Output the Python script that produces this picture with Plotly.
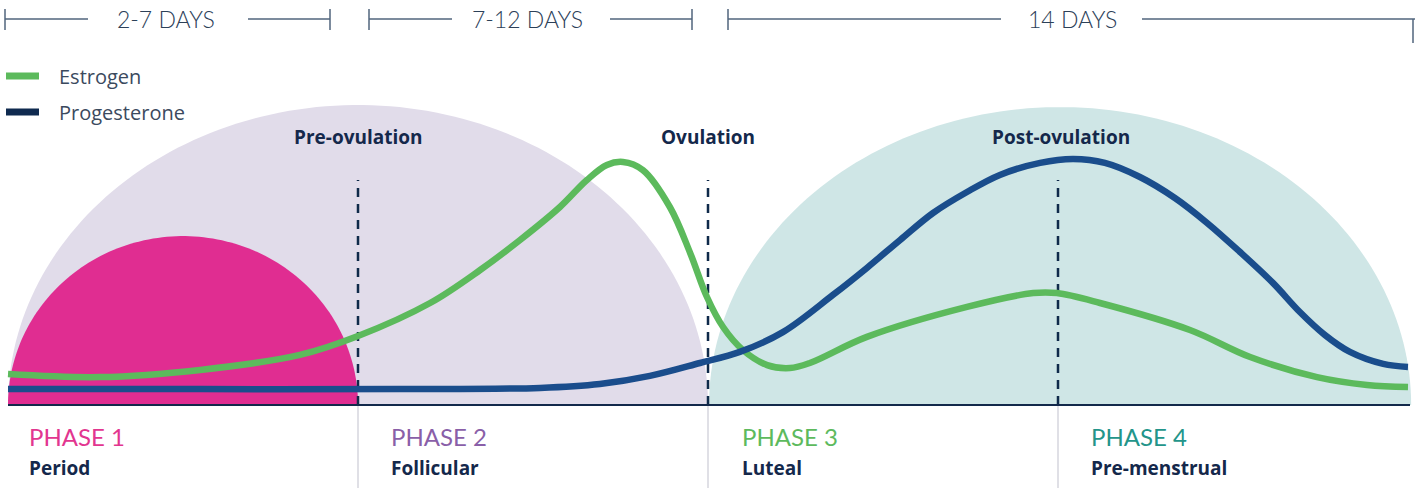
import numpy as np
import plotly.graph_objects as go

# ---------------- data (x: cycle position in phase units, y: relative hormone level) -------------
estrogen_x = [0.0, 0.263, 0.549, 0.834, 1.0, 1.206, 1.349, 1.463, 1.577, 1.654, 1.711, 1.757, 1.814,
              1.891, 1.949, 1.997, 2.043, 2.1, 2.169, 2.234, 2.291, 2.454, 2.74, 2.929, 2.997, 3.12,
              3.377, 3.549, 3.74, 3.883, 4.0]
estrogen_y = [0.103, 0.093, 0.117, 0.167, 0.23, 0.34, 0.45, 0.55, 0.66, 0.75, 0.80, 0.81, 0.783,
              0.66, 0.507, 0.36, 0.26, 0.183, 0.133, 0.123, 0.14, 0.227, 0.327, 0.373, 0.373, 0.34,
              0.25, 0.16, 0.093, 0.067, 0.06]

progesterone_x = [0.0, 0.549, 1.12, 1.52, 1.691, 1.834, 1.977, 2.091, 2.214, 2.357, 2.454, 2.549,
                  2.643, 2.74, 2.834, 2.949, 3.043, 3.134, 3.234, 3.334, 3.426, 3.52, 3.614, 3.691,
                  3.763, 3.834, 3.929, 4.0]
progesterone_y = [0.053, 0.053, 0.053, 0.057, 0.07, 0.097, 0.14, 0.177, 0.243, 0.367, 0.457, 0.55,
                  0.64, 0.71, 0.767, 0.807, 0.82, 0.807, 0.76, 0.69, 0.607, 0.51, 0.407, 0.31,
                  0.233, 0.177, 0.137, 0.127]

phase_names = ["PHASE 1", "PHASE 2", "PHASE 3", "PHASE 4"]
phase_subtitles = ["Period", "Follicular", "Luteal", "Pre-menstrual"]
phase_colors = ["#e2368f", "#8a5fa8", "#5dba5d", "#23958a"]
stage_labels = ["Pre-ovulation", "Ovulation", "Post-ovulation"]
duration_labels = ["2-7 DAYS", "7-12 DAYS", "14 DAYS"]
series_names = ["Estrogen", "Progesterone"]
series_colors = ["#5cba5c", "#1a4d8c"]
legend_swatch_colors = ["#5cba5c", "#0f2a4f"]

# ---------------- geometry helpers (layout only) ----------------
W, H = 1422, 488
X0PX, UNIT = 8, 350.0      # x=0 at pixel 8, one phase = 350 px
BASE_PX, YUNIT = 405, 300.0


def X(px):
    return (px - X0PX) / UNIT


def Y(py):
    return (BASE_PX - py) / YUNIT


def half_ellipse(cx, rx, ry, n=120):
    t = np.linspace(np.pi, 0, n)
    xs = cx + rx * np.cos(t)
    ys = ry * np.sin(t)
    pts = " L ".join(f"{x:.5f},{y:.5f}" for x, y in zip(xs, ys))
    return f"M {pts} Z"


fig = go.Figure()

shapes = []
# background domes
shapes.append(dict(type="path", path=half_ellipse(1.0, 1.0, 1.0), fillcolor="#e1dcea",
                   line=dict(width=0), layer="below"))
shapes.append(dict(type="path", path=half_ellipse(3.006, 1.003, 0.993), fillcolor="#cfe6e6",
                   line=dict(width=0), layer="below"))
shapes.append(dict(type="path", path=half_ellipse(0.5, 0.5, 0.563), fillcolor="#e02d91",
                   line=dict(width=0), layer="below"))

# dashed phase dividers
for xb in [1.0, 2.0, 3.0]:
    shapes.append(dict(type="line", x0=xb, x1=xb, y0=0, y1=Y(180),
                       line=dict(color="#0f2a4a", width=2.5, dash="9px,7px"), layer="below"))
# grey separators under the baseline
for xb in [1.0, 2.0, 3.0]:
    shapes.append(dict(type="line", x0=xb, x1=xb, y0=0, y1=Y(488),
                       line=dict(color="#d6d6de", width=1.5), layer="below"))

# duration bracket lines in header
hdr_col = "#50657d"
hy = Y(19)
segs = [(5, 88), (248, 330), (369, 452), (610, 692), (728, 1001), (1142, 1415)]
for a, b in segs:
    shapes.append(dict(type="line", x0=X(a), x1=X(b), y0=hy, y1=hy,
                       line=dict(color=hdr_col, width=1.5)))
for tx in [5, 330, 369, 692, 728]:
    shapes.append(dict(type="line", x0=X(tx), x1=X(tx), y0=Y(9), y1=Y(30),
                       line=dict(color=hdr_col, width=1.5)))
shapes.append(dict(type="line", x0=X(1413), x1=X(1413), y0=Y(19), y1=Y(43),
                   line=dict(color=hdr_col, width=1.5)))

# legend swatches (manual)
for c, py in zip(legend_swatch_colors, [76, 112]):
    shapes.append(dict(type="rect", x0=X(6), x1=X(39), y0=Y(py - 3.5), y1=Y(py + 3.5),
                       fillcolor=c, line=dict(width=0)))

# hormone curves
fig.add_trace(go.Scatter(x=estrogen_x, y=estrogen_y, mode="lines", name=series_names[0],
                         line=dict(color=series_colors[0], width=6.5, shape="spline", smoothing=1.0),
                         hoverinfo="skip"))
fig.add_trace(go.Scatter(x=progesterone_x, y=progesterone_y, mode="lines", name=series_names[1],
                         line=dict(color=series_colors[1], width=6.5, shape="spline", smoothing=1.0),
                         hoverinfo="skip"))

# baseline on top
shapes.append(dict(type="line", x0=X(8), x1=X(1410), y0=0, y1=0,
                   line=dict(color="#13294b", width=2)))

annotations = []
light_font = dict(family="Lato, Open Sans, sans-serif", size=23, color="#2c4058", weight=300)
for lab, cx in zip(duration_labels, [166, 527, 1072]):
    annotations.append(dict(x=X(cx), y=Y(19), text=lab, showarrow=False, xanchor="center",
                            yanchor="middle", font=light_font))

for name, py in zip(series_names, [76, 112]):
    annotations.append(dict(x=X(57), y=Y(py), text=name, showarrow=False, xanchor="left",
                            yanchor="middle",
                            font=dict(family="Open Sans, sans-serif", size=20, color="#3b4a5e")))

for lab, cx in zip(stage_labels, [358, 708, 1061]):
    annotations.append(dict(x=X(cx), y=Y(137), text=f"<b>{lab}</b>", showarrow=False,
                            xanchor="center", yanchor="middle",
                            font=dict(family="Open Sans, sans-serif", size=19, color="#14284b")))

for name, sub, col, lx in zip(phase_names, phase_subtitles, phase_colors, [27, 389, 740, 1089]):
    annotations.append(dict(x=X(lx), y=Y(436), text=name, showarrow=False, xanchor="left",
                            yanchor="middle",
                            font=dict(family="Lato, sans-serif", size=24, color=col)))
    annotations.append(dict(x=X(lx), y=Y(468), text=f"<b>{sub}</b>", showarrow=False,
                            xanchor="left", yanchor="middle",
                            font=dict(family="Open Sans, sans-serif", size=19, color="#14284b")))

fig.update_layout(
    width=W, height=H,
    margin=dict(l=0, r=0, t=0, b=0),
    paper_bgcolor="white", plot_bgcolor="white",
    showlegend=False,
    shapes=shapes,
    annotations=annotations,
    xaxis=dict(range=[X(0), X(W)], visible=False, fixedrange=True),
    yaxis=dict(range=[Y(H), Y(0)], visible=False, fixedrange=True),
)

fig.write_html("out.html", config={"displayModeBar": False},
               post_script="document.body.style.margin='0';document.body.style.overflow='hidden';")
